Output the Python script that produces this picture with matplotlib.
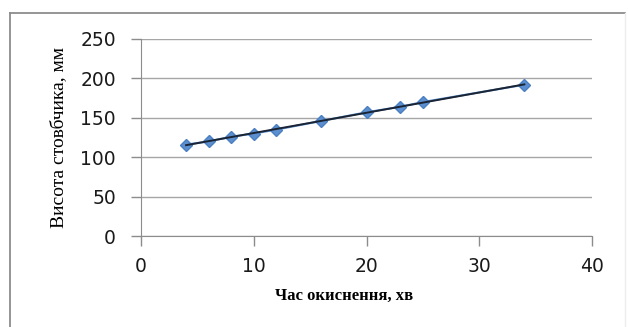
import numpy as np
import matplotlib
matplotlib.use('Agg')
import matplotlib.pyplot as plt
from matplotlib.lines import Line2D

# час окиснення, хв
time_min = [4, 6, 8, 10, 12, 16, 20, 23, 25, 34]
# висота стовбчика, мм
height_mm = [116, 120, 126, 130, 135, 146, 157, 164, 170, 192]

x_ticks = [0, 10, 20, 30, 40]
y_ticks = [0, 50, 100, 150, 200, 250]

W, H = 628, 327
fig = plt.figure(figsize=(W / 100, H / 100), dpi=100)
ax = fig.add_axes([141 / W, 1 - 236 / H, 451 / W, 197 / H])

# рамка діаграми (обрізана знизу)
fig.lines.append(Line2D([10 / W, 10 / W], [0, 1 - 13 / H], transform=fig.transFigure,
                        color='#8c8c8c', linewidth=1.3))
fig.lines.append(Line2D([10 / W, 625 / W], [1 - 13 / H, 1 - 13 / H], transform=fig.transFigure,
                        color='#8c8c8c', linewidth=1.3))
fig.lines.append(Line2D([625 / W, 625 / W], [0, 1 - 13 / H], transform=fig.transFigure,
                        color='#ececec', linewidth=1.0))

ax.plot(time_min, height_mm, linestyle='-', color='#5b8fd0', linewidth=1.5,
        marker='D', markersize=6, markerfacecolor='#5b8fd0', markeredgecolor='#4a7fc2', zorder=3)

# лінія тренду
k, b = np.polyfit(time_min, height_mm, 1)
tx = np.array([min(time_min), max(time_min)])
ax.plot(tx, k * tx + b, color='#1a2433', linewidth=1.4, zorder=4)

ax.set_xlim(0, 40)
ax.set_ylim(0, 250)
ax.set_xticks(x_ticks)
ax.set_yticks(y_ticks)

ax.grid(True, axis='y', color='#a6a6a6', linewidth=1.0)
ax.set_axisbelow(True)
for s in ['top', 'right']:
    ax.spines[s].set_visible(False)
for s in ['left', 'bottom']:
    ax.spines[s].set_color('#8c8c8c')
ax.tick_params(axis='both', colors='#8c8c8c', length=7, width=1.0, labelsize=13.5,
               labelcolor='#1a1a1a')
for lab in ax.get_xticklabels() + ax.get_yticklabels():
    lab.set_family('DejaVu Sans')
ax.tick_params(axis='x', pad=8)
ax.tick_params(axis='y', pad=11)

ax.set_xlabel('Час окиснення, хв', fontfamily='Liberation Serif', fontweight='bold', fontsize=12)
ax.set_ylabel('Висота стовбчика, мм', fontfamily='Liberation Serif', fontsize=14)
ax.xaxis.set_label_coords((344 - 141) / 451, -52 / 197)
ax.yaxis.set_label_coords((67 - 141) / 451, 0.5)

fig.savefig('out.png', dpi=100, facecolor='white')
